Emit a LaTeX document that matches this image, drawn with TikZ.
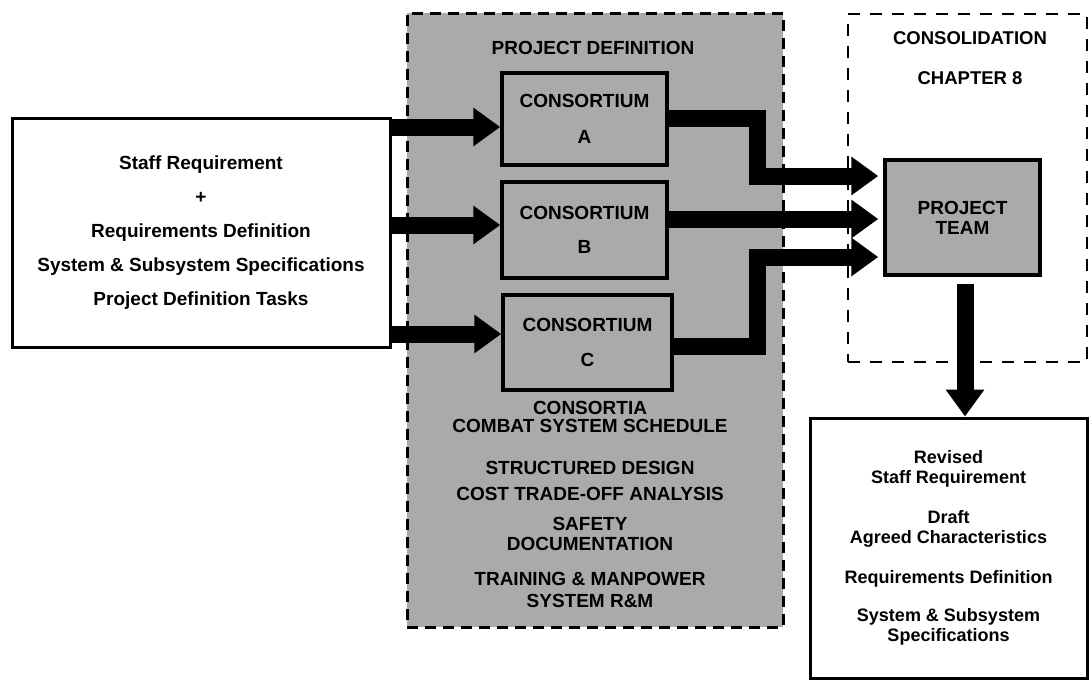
\documentclass[tikz,border=0pt]{standalone}
\usepackage{fontspec}
\setmainfont{Liberation Sans}
\usetikzlibrary{arrows.meta}
\definecolor{shade}{RGB}{170,170,170}
\begin{document}
\begin{tikzpicture}[x=1pt,y=-1pt,
  box/.style={draw, line width=3pt, inner sep=0pt, align=center, font=\bfseries},
  greybox/.style={box, fill=shade, line width=3.5pt},
  label/.style={inner sep=0pt, align=center, font=\bfseries},
  bigarrow/.style={line width=17pt, -{Triangle[length=27pt,width=37pt]}},
]
\useasboundingbox (0,0) rectangle (1091,681);

% project definition phase (shaded, dashed frame)
\node[fill=shade, draw, line width=3pt, dash pattern=on 11pt off 7pt,
      minimum width=376pt, minimum height=614pt, inner sep=0pt] (pd) at (595,320) {};
\node[label, font=\bfseries\fontsize{19}{20}\selectfont] (pdt) at (593,48) {PROJECT DEFINITION};
\node[label, font=\bfseries\fontsize{19}{18}\selectfont] (g1) at (590,417) {CONSORTIA\\COMBAT SYSTEM SCHEDULE};
\node[label, font=\bfseries\fontsize{19}{26}\selectfont] (g2) at (590,481) {STRUCTURED DESIGN\\COST TRADE-OFF ANALYSIS};
\node[label, font=\bfseries\fontsize{19}{20}\selectfont] (g3) at (590,534) {SAFETY\\DOCUMENTATION};
\node[label, font=\bfseries\fontsize{19}{22}\selectfont] (g4) at (590,590) {TRAINING \& MANPOWER\\SYSTEM R\&M};

% consolidation phase (dashed frame)
\node[draw, line width=1.5pt, dash pattern=on 12pt off 10pt,
      minimum width=239pt, minimum height=348pt, inner sep=0pt] (cons) at (967.5,188) {};
\node[label, font=\bfseries\fontsize{18.5}{20}\selectfont] (ct) at (970,38) {CONSOLIDATION};
\node[label, font=\bfseries\fontsize{18.5}{20}\selectfont] (ch) at (970,78) {CHAPTER 8};

% input requirements
\node[box, minimum width=378pt, minimum height=229pt,
      font=\bfseries\fontsize{19}{34}\selectfont] (req) at (201,232.5)
  {Staff Requirement\\+\\Requirements Definition\\System \& Subsystem Specifications\\Project Definition Tasks};

% consortia
\node[greybox, minimum width=165pt, minimum height=92pt,
      font=\bfseries\fontsize{19}{36}\selectfont] (cA) at (584.5,119) {CONSORTIUM\\A};
\node[greybox, minimum width=165pt, minimum height=96pt,
      font=\bfseries\fontsize{19}{34}\selectfont] (cB) at (584.5,230) {CONSORTIUM\\B};
\node[greybox, minimum width=169pt, minimum height=95pt,
      font=\bfseries\fontsize{19}{35}\selectfont] (cC) at (587.5,342.5) {CONSORTIUM\\C};

% project team
\node[greybox, minimum width=155pt, minimum height=115pt,
      font=\bfseries\fontsize{19}{20}\selectfont] (pt) at (962.5,217.5) {PROJECT\\TEAM};

% outputs
\node[box, minimum width=277pt, minimum height=260pt,
      font=\bfseries\fontsize{18}{20}\selectfont] (out) at (948.5,548)
  {Revised\\Staff Requirement\\[20pt]Draft\\Agreed Characteristics\\[20pt]Requirements Definition\\[18pt]System \& Subsystem\\Specifications};

% routing coordinates
\coordinate (yA) at (0,127);
\coordinate (yB) at (0,225);
\coordinate (yC) at (0,334);
\coordinate (bend) at (757,0);
\coordinate (tA) at (0,176);
\coordinate (tB) at (0,219);
\coordinate (tC) at (0,257);
\coordinate (xd) at (965,0);

% requirements to consortia
\draw[bigarrow] (req.east |- yA) -- (cA.west |- yA);
\draw[bigarrow] (req.east |- yB) -- (cB.west |- yB);
\draw[bigarrow] (req.east |- yC) -- (cC.west |- yC);

% consortia to project team
\draw[bigarrow] ([yshift=1pt]cA.east) -- ([yshift=1pt]cA.east -| bend) |- ([xshift=-5pt]pt.west |- tA);
\draw[bigarrow] (cB.east |- tB) -- ([xshift=-5pt]pt.west |- tB);
\draw[bigarrow] ([yshift=-4pt]cC.east) -- ([yshift=-4pt]cC.east -| bend) |- ([xshift=-5pt]pt.west |- tC);

% project team to outputs
\draw[bigarrow] ([yshift=-7pt]pt.south -| xd) -- (out.north -| xd);
\end{tikzpicture}
\end{document}
